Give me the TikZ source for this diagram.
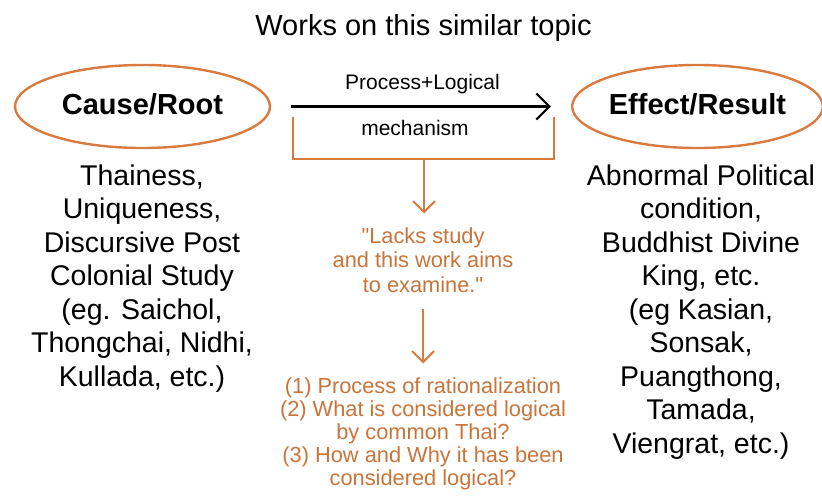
\documentclass[tikz,border=0pt]{standalone}
\usepackage{fontspec}
\setmainfont{Liberation Sans}
% same face without the TeX input mapping, so " stays a straight quote
\newfontfamily\plainsans{Liberation Sans}
\usetikzlibrary{arrows.meta,shapes.geometric}
\definecolor{rust}{HTML}{D97B3F}
\definecolor{rusttext}{HTML}{C8743A}
\tikzset{
  oval/.style={ellipse, draw=rust, line width=2.4pt, inner sep=0pt,
    minimum width=#1, minimum height=83pt,
    font=\bfseries\fontsize{29}{33}\selectfont,
    text height=20.8pt, text depth=3.8pt},
  bodytext/.style={align=center, inner sep=0pt, anchor=north,
    font=\fontsize{28.5}{33.5}\selectfont},
  notetext/.style={align=center, inner sep=0pt, anchor=north, text=rusttext},
  flowarrow/.style={draw=rust, line width=2pt,
    -{Straight Barb[length=11pt,width=22pt,line width=2pt]}},
}
\begin{document}
\begin{tikzpicture}[x=1pt,y=-1pt]
\useasboundingbox (0,0) rectangle (822,497);

% heading
\node[anchor=base, inner sep=0pt, font=\fontsize{29}{33}\selectfont] (title) at (423.5,36) {Works on this similar topic};

% the two ends of the chain
\node[oval=255pt] (cause) at (142.5,106.5) {Cause/Root};
\node[oval=245pt] (effect) at (697.5,106.5) {Effect/Result};

% main arrow with its labels
\draw[line width=2.2pt, shorten <=20pt, shorten >=20pt,
  -{Straight Barb[length=13pt,width=26pt,line width=2.2pt]}] (cause.east) -- (effect.west);
\node[anchor=base, inner sep=0pt, font=\fontsize{21}{24}\selectfont] (proc) at (422.5,90) {Process+Logical};
\node[anchor=base, inner sep=0pt, font=\fontsize{21}{24}\selectfont] (mech) at (415,136) {mechanism};

% bracket under the arrow
\coordinate (bl) at (293,117);
\coordinate (br) at (554,117);
\coordinate (bmid) at (424,159);
\draw[rust, line width=2pt] (bl) |- (bmid) -| (br);

% left and right columns
\node[bodytext] (causelist) at (142,164.5) {Thainess,\\Uniqueness,\\Discursive Post\\Colonial Study\\(eg. Saichol,\\Thongchai, Nidhi,\\Kullada, etc.)};
\node[bodytext] (effectlist) at (701,164.5) {Abnormal Political\\condition,\\Buddhist Divine\\King, etc.\\(eg Kasian,\\Sonsak,\\Puangthong,\\Tamada,\\Viengrat, etc.)};

% middle column
\node[notetext, font=\plainsans\fontsize{21.8}{24.5}\selectfont] (gap) at (423,227.5) {"Lacks study\\and this work aims\\to examine."};
\node[notetext, font=\fontsize{21.8}{23}\selectfont] (aims) at (423,377.5) {(1) Process of rationalization\\(2) What is considered logical\\by common Thai?\\(3) How and Why it has been\\considered logical?};

\draw[flowarrow, shorten >=14pt] (bmid) -- (bmid |- gap.north);
\draw[flowarrow, shorten <=16pt, shorten >=14pt] (gap.south) -- (aims.north);
\end{tikzpicture}
\end{document}
